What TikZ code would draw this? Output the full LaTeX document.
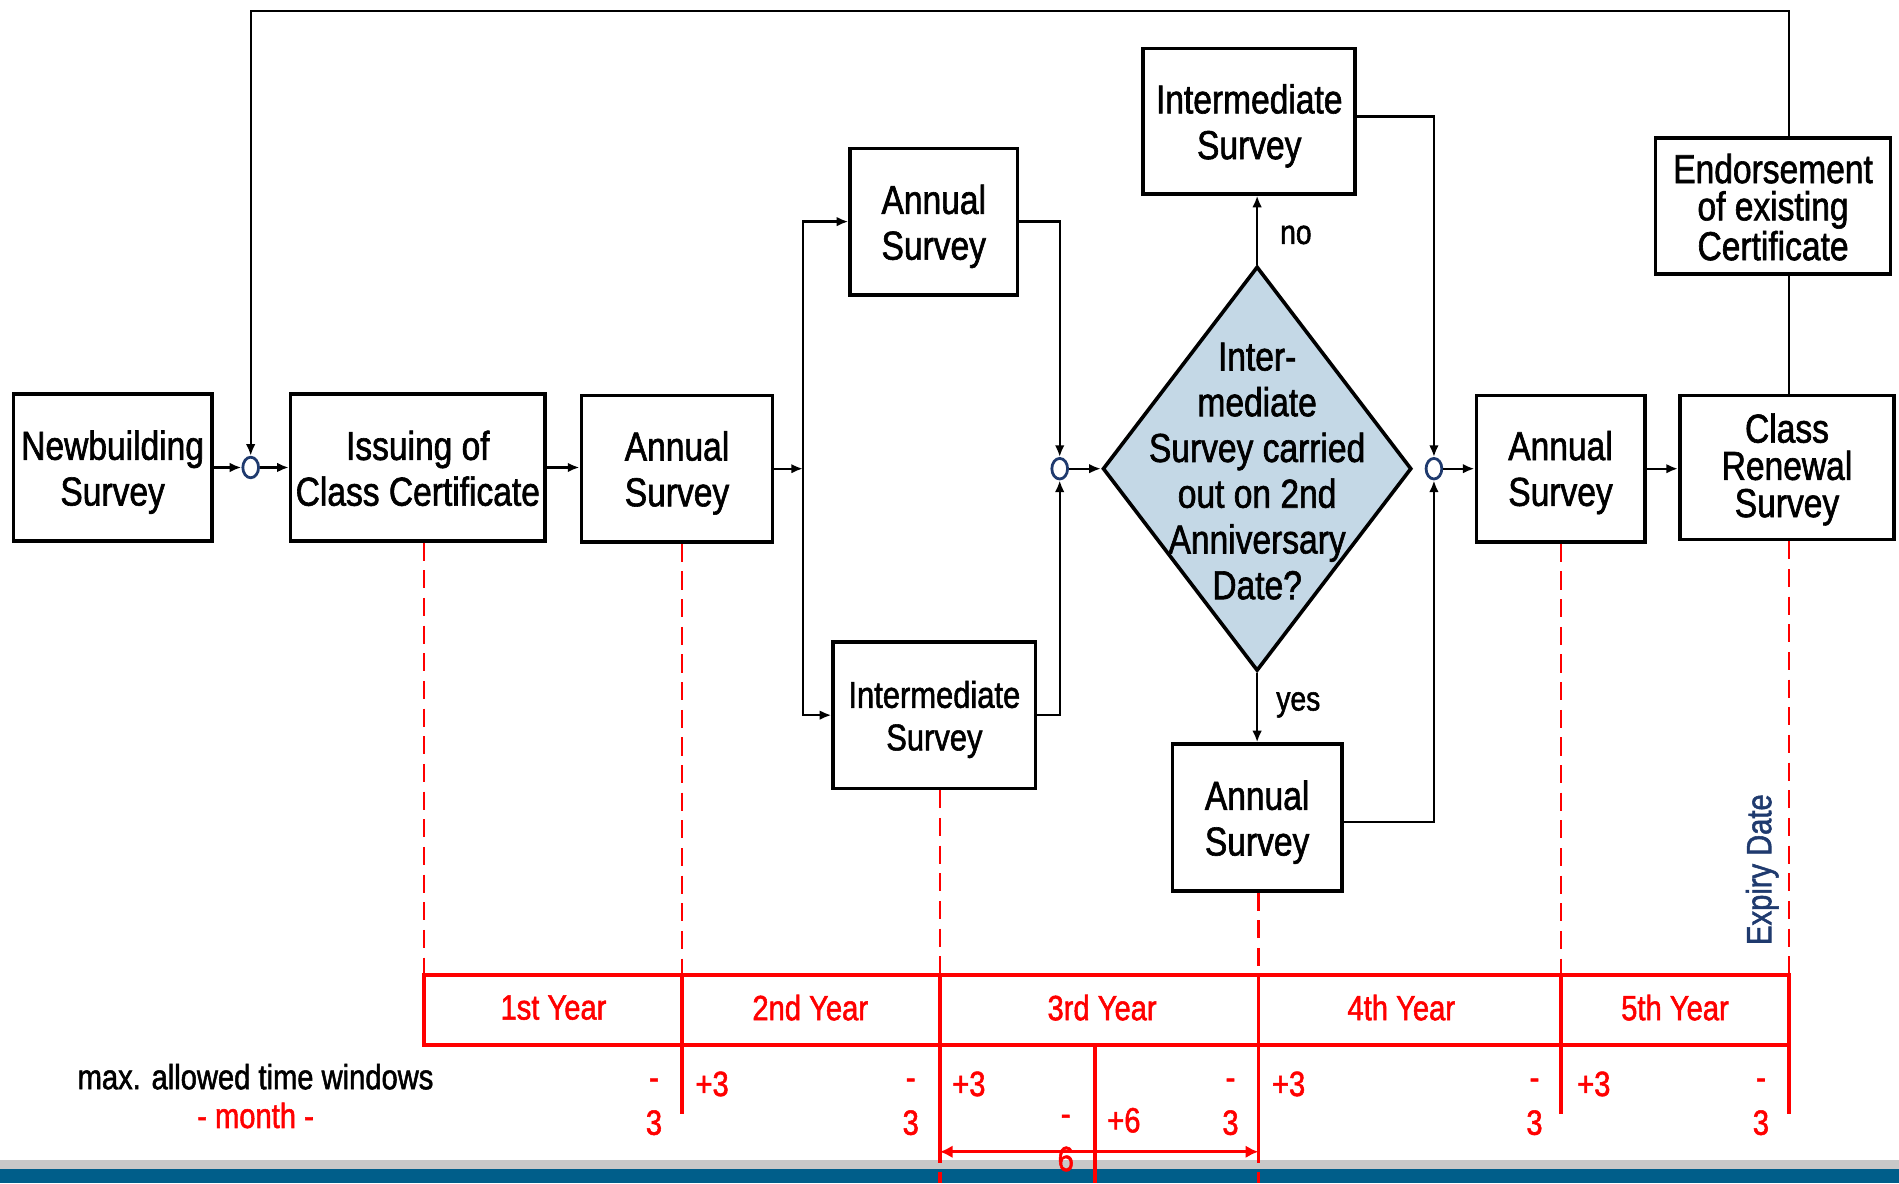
\documentclass[tikz,border=0pt]{standalone}
\usepackage{fontspec}
\setmainfont{Liberation Sans}[FakeStretch=0.83,FakeBold=1.5]
\usetikzlibrary{arrows.meta,shapes.geometric}
\definecolor{navy}{RGB}{31,58,110}
\definecolor{diafill}{RGB}{196,216,230}
\definecolor{bandblue}{RGB}{0,94,138}
\definecolor{bandgray}{RGB}{200,200,200}
\newcommand\fsz[2]{\fontsize{#1}{#2}\selectfont}
\begin{document}
\begin{tikzpicture}[x=0.02cm,y=-0.02cm,
 box/.style={draw,line width=1.7pt,inner sep=0pt},
 btxt/.style={align=center,inner sep=0pt,font=\fsz{19}{21.5}},
 sz/.style 2 args={minimum width=#1*0.02cm,minimum height=#2*0.02cm},
 conn/.style={line width=1.1pt},
 arr/.style={conn,-{Latex[length=5.5pt,width=4.5pt]}},
 junc/.style={ellipse,draw=navy,fill=white,line width=1.3pt,inner sep=0pt,minimum width=13*0.02cm,minimum height=17*0.02cm},
 lbl/.style={font=\fsz{16}{18}},
 redt/.style={text=red,font=\fsz{16.5}{18}},
 tbl/.style={draw=red,line width=1.7pt},
 rdash/.style={draw=red,line width=1.2pt,dash pattern=on 8.5pt off 4.5pt},
]
\useasboundingbox (0,0) rectangle (1568,977);
% bottom band
\fill[bandgray] (0,958) rectangle (1568,965);
\fill[bandblue] (0,965) rectangle (1568,977);

% boxes
\node[box,sz={164}{121}] (nb) at (93,386) {};
\node[btxt] (nbT) at ([yshift=-2.2pt]nb.center) {Newbuilding\\Survey};
\node[junc] (j1) at (207,386) {};
\node[box,sz={210}{121}] (iss) at (345,386) {};
\node[btxt] (issT) at ([yshift=-0.4pt]iss.center) {Issuing of\\Class Certificate};
\node[box,sz={158}{121}] (a1) at (559,387) {};
\node[btxt] (a1T) at ([yshift=-2pt]a1.center) {Annual\\Survey};
\coordinate (split) at (663,387);
\node[box,sz={138}{121}] (a2) at (771,183) {};
\node[btxt] (a2T) at ([yshift=-2.2pt]a2.center) {Annual\\Survey};
\node[box,sz={167}{121}] (i1) at (771.5,590.5) {};
\node[btxt,font=\fsz{17.5}{20}] (i1T) at ([yshift=-2pt]i1.center) {Intermediate\\Survey};
\node[junc] (j2) at (875,387) {};
\node[diamond,draw,fill=diafill,line width=1.7pt,inner sep=0pt,sz={255}{334}] (dia) at (1038,387) {};
\node[btxt] (dtxt) at (1038,389) {Inter-\\mediate\\Survey carried\\out on 2nd\\Anniversary\\Date?};
\node[box,sz={175}{120}] (i2) at (1031.5,100) {};
\node[btxt] (i2T) at ([yshift=-2.2pt]i2.center) {Intermediate\\Survey};
\node[box,sz={140}{121}] (a3) at (1038,675) {};
\node[btxt] (a3T) at ([yshift=-2.2pt]a3.center) {Annual\\Survey};
\node[junc] (j3) at (1184,387) {};
\node[box,sz={139}{121}] (a4) at (1288.5,387) {};
\node[btxt] (a4T) at ([yshift=-1.8pt]a4.center) {Annual\\Survey};
\node[box,sz={177}{119}] (cr) at (1475.5,386) {};
\node[btxt,font=\fsz{19}{17.5}] (crT) at ([yshift=-0.9pt]cr.center) {Class\\Renewal\\Survey};
\node[box,sz={194}{112}] (en) at (1464,170) {};
\node[btxt,font=\fsz{19}{17.5}] (enT) at ([yshift=-0.6pt]en.center) {Endorsement\\of existing\\Certificate};
\coordinate (topR) at (1477,9);

% connectors
\draw[arr] (nb.east) -- (j1.west);
\draw[arr] (j1.east) -- (iss.west);
\draw[arr] (iss.east) -- (iss.east -| a1.west);
\draw[arr] (a1.east) -- (split);
\draw[arr] (split) |- (a2.west);
\draw[arr] (split) |- (i1.west);
\draw[arr] (a2.east) -| (j2.north);
\draw[arr] (i1.east) -| (j2.south);
\draw[arr] (j2.east) -- (dia.west);
\draw[arr] (dia.north) -- (i2.south -| dia.north);
\draw[arr] (dia.south) -- (a3.north);
\draw[arr] ([yshift=2.2pt]i2.east) -| (j3.north);
\draw[arr] ([yshift=-2.2pt]a3.east) -| (j3.south);
\draw[arr] (j3.east) -- (a4.west);
\draw[arr] (a4.east) -- (a4.east -| cr.west);
\draw[conn] (cr.north -| topR) -- (en.south -| topR);
\draw[arr] (en.north -| topR) -- (topR) -| (j1.north);

\node[lbl] (no) at (1070,194) {no};
\node[lbl] (yes) at (1072,582) {yes};

% timeline table
\coordinate (c0) at (350,805); \coordinate (b0) at (350,863);
\coordinate (c1) at (563,805); \coordinate (b1) at (563,863);
\coordinate (c2) at (776,805); \coordinate (b2) at (776,863);
\coordinate (c3) at (1039,805); \coordinate (b3) at (1039,863);
\coordinate (c4) at (1289,805); \coordinate (b4) at (1289,863);
\coordinate (c5) at (1477,805); \coordinate (b5) at (1477,863);
\coordinate (m0) at (904,863);

\draw[rdash] (iss.south -| c0) -- (c0);
\draw[rdash] (a1.south -| c1) -- (c1);
\draw[rdash] (i1.south -| c2) -- (c2);
\draw[rdash] (a3.south -| c3) -- (c3);
\draw[rdash] (a4.south -| c4) -- (c4);
\draw[rdash] (cr.south -| c5) -- (c5);

\draw[tbl] (c0) rectangle (b5);
\foreach \i in {1,2,3,4} {\draw[tbl] (c\i) -- (b\i);}

\node[redt] (y1) at (457,832) {1st Year};
\node[redt] (y2) at (669,832) {2nd Year};
\node[redt] (y3) at (910,832) {3rd Year};
\node[redt] (y4) at (1157,832) {4th Year};
\node[redt] (y5) at (1383,832) {5th Year};

% lines below the table
\draw[tbl] (b1) -- (563,920);
\draw[tbl] (b2) -- (776,960);
\draw[tbl] (776,968) -- (776,977);
\draw[tbl] (m0) -- (904,977);
\draw[tbl] (b3) -- (1039,960);
\draw[tbl] (1039,968) -- (1039,977);
\draw[tbl] (b4) -- (1289,920);
\draw[tbl] (b5) -- (1477,920);
\coordinate (aL) at (776,951);
\coordinate (aR) at (1039,951);
\draw[draw=red,line width=1.5pt,{Latex[length=6pt,width=6pt]}-{Latex[length=6pt,width=6pt]}] (aL) -- (aR);

% time window labels
\node[font=\fsz{16.5}{18}] (mx) at (211,889) {max. allowed time windows};
\node[redt] (mo) at (211,921) {- month -};
\node[redt] (t1) at (540,895) {-};
\node[redt] (t2) at (540,927) {3};
\node[redt] (t3) at (588,895) {+3};
\node[redt] (t4) at (752,895) {-};
\node[redt] (t5) at (752,927) {3};
\node[redt] (t6) at (800,895) {+3};
\node[redt] (t7) at (880,925) {-};
\node[redt] (t8) at (928,925) {+6};
\node[redt] (t9) at (880,957) {6};
\node[redt] (t10) at (1016,895) {-};
\node[redt] (t11) at (1016,927) {3};
\node[redt] (t12) at (1064,895) {+3};
\node[redt] (t13) at (1267,895) {-};
\node[redt] (t14) at (1267,927) {3};
\node[redt] (t15) at (1316,895) {+3};
\node[redt] (t16) at (1454,895) {-};
\node[redt] (t17) at (1454,927) {3};

\node[rotate=90,text=navy,font=\fsz{16.5}{18}] (exp) at (1455,718) {Expiry Date};
\end{tikzpicture}
\end{document}
